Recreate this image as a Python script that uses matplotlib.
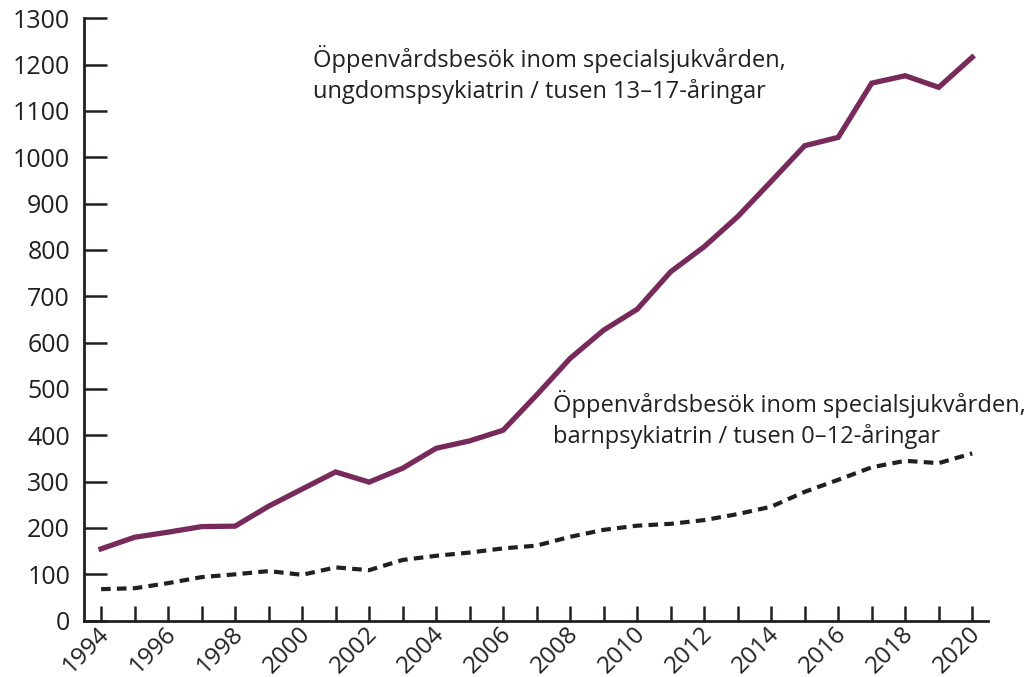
import matplotlib
matplotlib.use('Agg')
import matplotlib.pyplot as plt
import matplotlib.transforms as mtransforms

plt.rcParams['font.family'] = ['Open Sans', 'DejaVu Sans']

years = list(range(1994, 2021))
ungdom = [155, 180, 191, 203, 204, 247, 284, 321, 299, 329, 372, 388, 411, 487,
          566, 627, 672, 753, 807, 872, 948, 1025, 1043, 1160, 1176, 1151, 1216]
barn = [68, 70, 81, 94, 100, 107, 99, 115, 109, 131, 140, 147, 156, 162,
        181, 196, 205, 209, 217, 230, 246, 278, 304, 331, 345, 340, 361]
label_ungdom = ['Öppenvårdsbesök inom specialsjukvården,',
                'ungdomspsykiatrin / tusen 13–17-åringar']
label_barn = ['Öppenvårdsbesök inom specialsjukvården,',
              'barnpsykiatrin / tusen 0–12-åringar']

purple = '#772a5b'
ink = '#231f20'

fig = plt.figure(figsize=(10.32, 6.77), dpi=100)
ax = fig.add_axes([0.0814, 0.0832, 0.8756, 0.8898])

ax.plot(years, ungdom, color=purple, lw=3.8, solid_joinstyle='miter')
ax.plot(years, barn, color=ink, lw=3.0, linestyle=(0, (2.3, 1.5)))

ax.set_xlim(1993.49, 2020.46)
ax.set_ylim(0, 1300)
ax.set_yticks(range(0, 1301, 100))
ax.set_xticks(years)
ax.set_xticklabels([str(y) if y % 2 == 0 else '' for y in years],
                   rotation=45, ha='right', va='center', rotation_mode='anchor')

for s in ['top', 'right']:
    ax.spines[s].set_visible(False)
for s in ['left', 'bottom']:
    ax.spines[s].set_linewidth(2.0)
    ax.spines[s].set_color(ink)

ax.tick_params(axis='y', direction='in', length=16.5, width=1.8, color=ink,
               labelsize=18, labelcolor=ink, pad=10)
ax.tick_params(axis='x', direction='in', length=11, width=1.8, color=ink,
               labelsize=17.5, labelcolor=ink, pad=7)

# nudge rotated year labels a little to the right, like the original
shift = mtransforms.ScaledTranslation(5 / 100, 0, fig.dpi_scale_trans)
for lab in ax.get_xticklabels():
    lab.set_transform(lab.get_transform() + shift)

fs = 17.0
ax.text(2000.32, 1195.7, label_ungdom[0], fontsize=fs, color=ink, va='baseline')
ax.text(2000.32, 1127.6, label_ungdom[1], fontsize=fs, color=ink, va='baseline')
ax.text(2007.48, 451, label_barn[0], fontsize=fs, color=ink, va='baseline')
ax.text(2007.48, 383, label_barn[1], fontsize=fs, color=ink, va='baseline')

fig.savefig('out.png', dpi=100)
